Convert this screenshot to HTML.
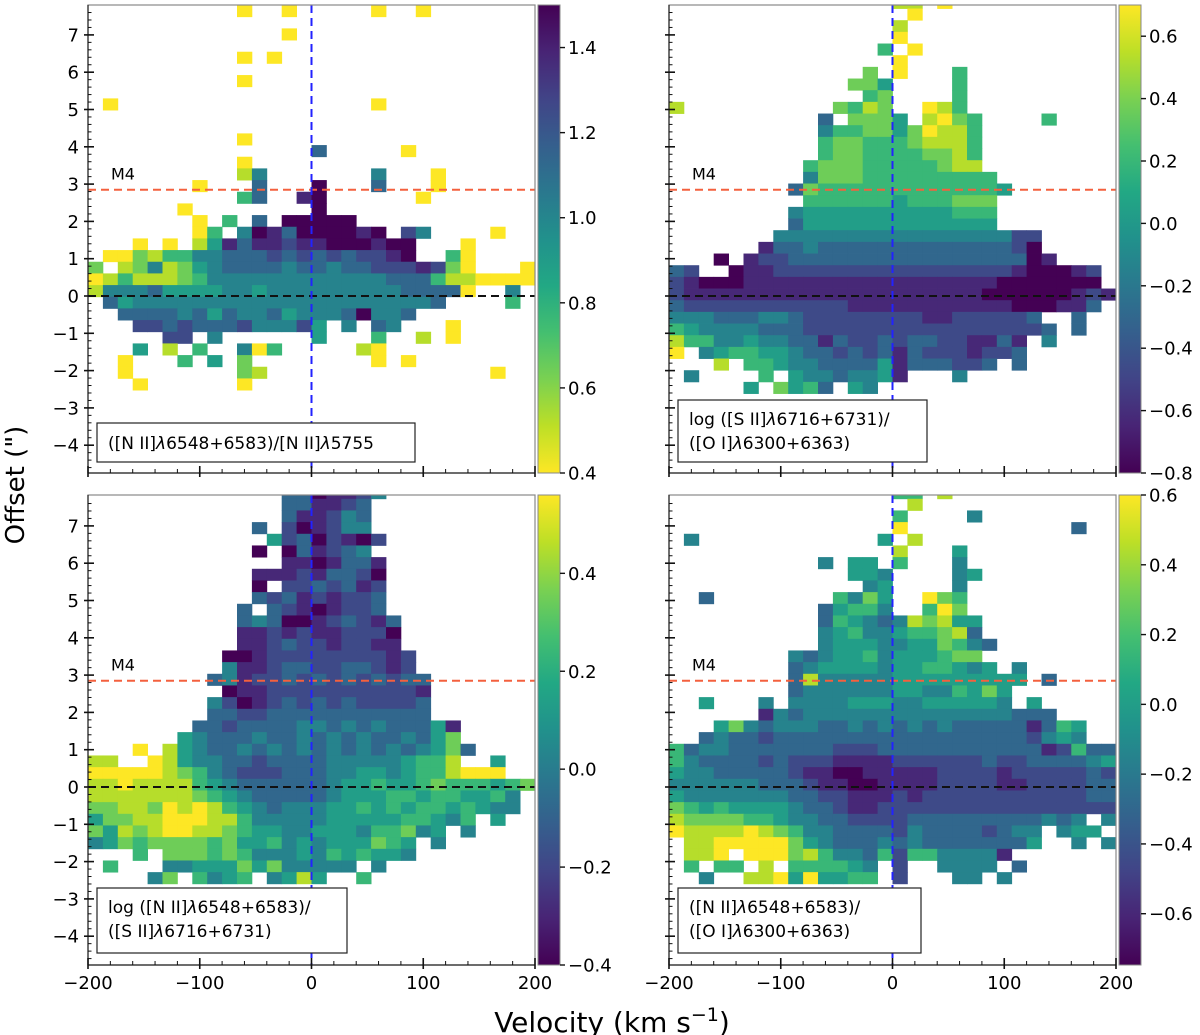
<!DOCTYPE html>
<html><head><meta charset="utf-8"><style>
html,body{margin:0;padding:0;background:#fff;}
svg{display:block;font-family:"DejaVu Sans","Liberation Sans",sans-serif;}
</style></head><body>
<svg id="fig" width="1200" height="1035" viewBox="0 0 1200 1035" xmlns="http://www.w3.org/2000/svg">
<defs>
<linearGradient id="vir" x1="0" y1="1" x2="0" y2="0">
<stop offset="0" stop-color="#440154"/><stop offset="0.1" stop-color="#482475"/><stop offset="0.2" stop-color="#414487"/><stop offset="0.3" stop-color="#355f8d"/><stop offset="0.4" stop-color="#2a788e"/><stop offset="0.5" stop-color="#21918c"/><stop offset="0.6" stop-color="#22a884"/><stop offset="0.7" stop-color="#44bf70"/><stop offset="0.8" stop-color="#7ad151"/><stop offset="0.9" stop-color="#bddf26"/><stop offset="1" stop-color="#fde725"/>
</linearGradient>
<linearGradient id="virr" x1="0" y1="0" x2="0" y2="1">
<stop offset="0" stop-color="#440154"/><stop offset="0.1" stop-color="#482475"/><stop offset="0.2" stop-color="#414487"/><stop offset="0.3" stop-color="#355f8d"/><stop offset="0.4" stop-color="#2a788e"/><stop offset="0.5" stop-color="#21918c"/><stop offset="0.6" stop-color="#22a884"/><stop offset="0.7" stop-color="#44bf70"/><stop offset="0.8" stop-color="#7ad151"/><stop offset="0.9" stop-color="#bddf26"/><stop offset="1" stop-color="#fde725"/>
</linearGradient>
</defs>
<text x="24" y="485" font-size="26" text-anchor="middle" transform="rotate(-90 24 485)">Offset (")</text>
<text x="612" y="1032" font-size="28" text-anchor="middle">Velocity (km s<tspan dy="-11" font-size="19">−1</tspan><tspan dy="11">)</tspan></text>
</svg>
<script>
// ---- data: colour levels per cell (0 = bottom of colormap, 9 = top); rows top-down, 30 velocity bins ----
const tlRows = [
"..... ..... 9..9. ....9 ..9.. .....","..... ..... ..... ..... ..... .....","..... ..... ...9. ..... ..... .....",
"..... ..... ..... ..... ..... .....","..... ..... 9.9.. ..... ..... .....","..... ..... ..... ..... ..... .....",
"..... ..... 9.... ..... ..... .....","..... ..... ..... ..... ..... .....",".9... ..... ..... ....9 ..... .....",
"..... ..... ..... ..... ..... .....","..... ..... ..... ..... ..... .....","..... ..... 9.... ..... ..... .....",
"..... ..... ..... 3.... .9... .....","..... ..... 9.... ..... ..... .....","..... ..... 84... ....4 ...9. .....",
"..... ..9.. .3... 0...3 ...9. .....","..... ..... 63..1 0.... ..9.. .....","..... .9... ..... 0.... ..... .....",
"..... ..9.6 .3.00 000.. ..... .....","..... ..96. 40130 00010 .24.. ..9..","...9. 9.851 31121 10001 00... 9....",
".9978 66443 33232 32322 10..6 9....","7.874 87543 33343 34332 22127 9...9","98688 87644 44444 44444 33368 89999",
"84443 55554 45444 44444 43333 9..4.",".3544 44444 44444 44444 4443. ...6.","..333 34353 44354 44304 43... .....",
"...22 32333 24442 5.4.3 4...9 .....","..... 22.4. ..... 5...6 ..8.9 .....","...5. 8.6.. 496.. ...89 ..... .....",
"..9.. .6.5. 7.... ....9 .9... .....","..9.. ..... 78... ..... ..... ..9..","...9. ..... 9.... ..... ..... ....."];
const trRows = [
"..... ..... ..... 88.9. ..... .....","..... ..... ..... .9... ..... .....","..... ..... ..... 8.... ..... .....",
"..... ..... ..... 9.... ..... .....","..... ..... ....6 .9... ..... .....","..... ..... ..... 9.... ..... .....",
"..... ..... ...7. 9...6 ..... .....","..... ..... ..775 ....6 ..... .....","..... ..... ...67 ....6 ..... .....",
"8.... ..... .7687 ..986 ..... .....","..... ..... 3.777 5.897 6.... 6....","..... ..... 46677 57988 6.... .....",
"..... ..... 67766 67888 6.... .....","..... ..... 67766 66778 6.... .....","..... ....6 77766 66678 8.... .....",
"..... ....4 77766 66666 66... .....","..... ...37 66666 66666 665.. .....","..... ....6 66666 56667 77... .....",
"..... ...45 55555 55556 66... .....","..... ...35 55555 55555 55... .....","..... ..444 44444 44444 44422 .....",
"..... .1334 33333 33333 33320 .....","...0. 12233 33333 33333 33330 1....","32..0 11222 22222 22222 22210 0012.",
"21000 11111 11111 11111 11000 0000.","21111 11111 11111 11111 10000 00121","32222 22222 22111 11111 11100 0113.",
"44433 34432 22222 22112 22223 ..3..","65444 43332 22222 22222 22222 3.3..","86644 54433 13223 23322 1131. 4....",
"9.456 65543 32323 13222 1223. .....","...8. 66544 33335 13332 23.3. .....",".4... .6.54 43445 1...4 ..... .....",
"..... 5.756 3.54. ..... ..... ....."];
const blRows = [
"..... ..... ...33 01124 ..... .....","..... ..... ...33 1123. ..... .....","..... ..... ...31 1243. ..... .....",
"..... ..... .3.20 1244. ..... .....","..... ..... ..523 02102 ..... .....","..... ..... .0.03 1234. ..... .....",
"..... ..... ...11 01331 ..... .....","..... ..... .1112 13320 ..... .....","..... ..... .0.22 32312 ..... .....",
"..... ..... .3231 21223 ..... .....","..... ..... 3.321 01223 ..... .....","..... ..... 34300 12321 3.... .....",
"..... ..... 11212 11222 0.... .....","..... ..... 11232 21221 1.... .....","..... ....0 01222 22222 12... .....",
"..... ....4 11233 22332 12... .....","..... ...34 12232 32323 233.. .....","..... ....0 11222 22222 221.. .....",
"..... ...42 01232 32322 223.. .....","..... ...33 22333 33333 333.. .....","..... ..332 33334 43434 33351 .....",
"..... .5433 34334 34343 34357 .....","...9. 85433 43434 34343 43457 3....","88..9 85443 32333 34444 45668 ..5..",
"99999 87643 22233 34455 45668 999..","88988 88654 33333 34556 55676 66567","88888 88765 43333 34555 66566 5564.",
"77887 98986 54344 45565 65665 6544.","57788 99988 64444 45555 56654 6.5..","75878 99887 65544 55546 6745. 4....",
"45767 77767 55645 45557 65.4. .....","...6. 77767 64445 46565 54... .....",".6... 44555 75744 444.4 ..... .....",
"....4 7.645 6.458 5..6. ..... ....."];
const brRows = [
"..... ..... ..... 66.8. ..... .....","..... ..... ..... .8... ..... .....","..... ..... ..... 6.... 4.... .....",
"..... ..... ..... 9.... ..... ..3..",".4... ..... ....5 .8... ..... .....","..... ..... ..... 8...5 ..... .....",
"..... ..... 4.55. 6...4 ..... .....","..... ..... ..554 ....4 5.... .....","..... ..... ...45 ....4 ..... .....",
"..3.. ..... .6475 ..976 ..... .....","..... ..... 35664 ..697 ..... .....","..... ..... 36543 48785 5.... .....",
"..... ..... 45644 56678 3.... .....","..... ..... 45554 45576 43... .....","..... ...43 45564 55567 7.... .....",
"..... ...34 55554 55665 45.4. .....","..... ...38 44444 55555 5555. 3....","..... ...34 44444 55446 575.. .....",
"..5.. .4.44 44555 44555 554.5 .....","..... .1434 44444 44444 44433 3....","...57 43444 33434 34343 33331 365..",
"..343 32333 33333 33333 33332 454..","63443 33333 32223 33333 33333 12633","64333 32322 21111 22222 23223 33345",
"54433 33321 10011 11122 22122 22232","44444 43332 11001 11122 22112 22233","54444 44433 22111 21222 22222 22233",
"76565 55543 32112 22222 22222 22222","87777 66544 33222 23333 33333 434.4","98888 98764 43333 24333 32344 .455.",
".8899 99975 43334 34333 33335 ..4.4",".889. 99978 64436 26644 441.. .....",".6.66 .8.66 6654. 2..44 44.3. .....",
"..4.. 88959 5566. 2...4 4.4.. ....."];
const yTickLabels = ["7","6","5","4","3","2","1","0","−1","−2","−3","−4"];
const yTickValues = [7,6,5,4,3,2,1,0,-1,-2,-3,-4];
const xTickValues = [-200,-100,0,100,200];
const xTickLabels = ["−200","−100","0","100","200"];
const cbTicksTL = [0.4,0.6,0.8,1.0,1.2,1.4];
const cbTicksTR = [-0.8,-0.6,-0.4,-0.2,0.0,0.2,0.4,0.6];
const cbTicksBL = [-0.4,-0.2,0.0,0.2,0.4];
const cbTicksBR = [-0.6,-0.4,-0.2,0.0,0.2,0.4,0.6];
const rangeTL = [0.4,1.5], rangeTR = [-0.8,0.7], rangeBL = [-0.4,0.56], rangeBR = [-0.747,0.6];
const m4Offset = 2.85;

const NS="http://www.w3.org/2000/svg";
const svg=document.getElementById('fig');
const VIR=[[68,1,84],[72,36,117],[65,68,135],[53,95,141],[42,120,142],[33,145,140],[34,168,132],[68,191,112],[122,209,81],[189,223,38],[253,231,37]];
function viridis(t){t=Math.max(0,Math.min(1,t));const p=t*10,i=Math.min(9,Math.floor(p)),f=p-i;const a=VIR[i],b=VIR[i+1];
return 'rgb('+a.map((v,k)=>Math.round(v+(b[k]-v)*f)).join(',')+')';}
function mk(tag,attrs,parent){const e=document.createElementNS(NS,tag);for(const k in attrs)e.setAttribute(k,attrs[k]);(parent||svg).appendChild(e);return e;}
function fmt(v){const s=Math.abs(v).toFixed(1);return (v<-1e-9?'−':'')+s;}

const panels=[
 {id:'top-left',x0:88,x1:535,top:5,bot:473,yz:296,rows:tlRows,topOff:7.80,rng:rangeTL,rev:true,cb:cbTicksTL,ylab:true,xlab:false,
  leg:{x:97,y:423,w:318,h:39,lines:[['([N II]','λ','6548+6583)/[N II]','λ','5755']]}},
 {id:'top-right',x0:669,x1:1116,top:5,bot:473,yz:296,rows:trRows,topOff:8.02,rng:rangeTR,rev:false,cb:cbTicksTR,ylab:false,xlab:false,
  leg:{x:678,y:400,w:249,h:62,lines:[['log ([S II]','λ','6716+6731)/'],['([O I]','λ','6300+6363)']]}},
 {id:'bottom-left',x0:88,x1:535,top:495,bot:965,yz:787,rows:blRows,topOff:8.04,rng:rangeBL,rev:false,cb:cbTicksBL,ylab:true,xlab:true,
  leg:{x:97,y:888,w:250,h:65,lines:[['log ([N II]','λ','6548+6583)/'],['([S II]','λ','6716+6731)']]}},
 {id:'bottom-right',x0:669,x1:1116,top:495,bot:965,yz:787,rows:brRows,topOff:8.04,rng:rangeBR,rev:false,cb:cbTicksBR,ylab:false,xlab:true,
  leg:{x:678,y:888,w:243,h:65,lines:[['([N II]','λ','6548+6583)/'],['([O I]','λ','6300+6363)']]}}
];
const PPU=37.3, NB=30, VMIN=-200, VMAX=200, ROWH=0.3128;

panels.forEach((P,pi)=>{
 const g=mk('g',{});
 
 
 const xs=v=>P.x0+(v-VMIN)/(VMAX-VMIN)*(P.x1-P.x0);
 const ys=o=>P.yz-o*PPU;
 const cid='clip'+pi;
 const cp=mk('clipPath',{id:cid},g);mk('rect',{x:P.x0,y:P.top,width:P.x1-P.x0,height:P.bot-P.top},cp);
 const hm=mk('g',{'clip-path':'url(#'+cid+')'},g);
 
 
 const dv=(VMAX-VMIN)/NB;
 const [lo,hi]=P.rng;
 P.rows.forEach((row,r)=>{
  const s=row.replace(/ /g,'');
  const oTop=P.topOff-r*ROWH;
  for(let c=0;c<s.length;c++){
   const ch=s[c]; if(ch==='.')continue;
   const lev=+ch/9;
   const val=P.rev? hi-lev*(hi-lo) : lo+lev*(hi-lo);
   let t=(val-lo)/(hi-lo); if(P.rev)t=1-t;
   const x1=xs(VMIN+c*dv), x2=xs(VMIN+(c+1)*dv);
   const y1=ys(oTop), y2=ys(oTop-ROWH);
   const rc=mk('rect',{x:x1.toFixed(2),y:y1.toFixed(2),width:(x2-x1+0.4).toFixed(2),height:(y2-y1+0.4).toFixed(2),fill:viridis(t)},hm);
   
   
  }
 });
 const lm=mk('line',{x1:P.x0,x2:P.x1,y1:ys(m4Offset),y2:ys(m4Offset),stroke:'#f4603e','stroke-width':2,'stroke-dasharray':'8,5'},g);
 
 
 const lz=mk('line',{x1:P.x0,x2:P.x1,y1:ys(0),y2:ys(0),stroke:'#111','stroke-width':2,'stroke-dasharray':'8,5'},g);
 
 
 const lv=mk('line',{x1:xs(0),x2:xs(0),y1:P.top,y2:P.bot,stroke:'#2222ff','stroke-width':2,'stroke-dasharray':'8,5'},g);
 
 
 const m4=mk('text',{x:P.x0+23,y:ys(m4Offset)-10,'font-size':16},g);m4.textContent='M4';
 
 
 const fr=mk('rect',{x:P.x0,y:P.top,width:P.x1-P.x0,height:P.bot-P.top,fill:'none',stroke:'#888','stroke-width':1.2},g);
 
 
 mk('line',{x1:P.x0,x2:P.x0,y1:P.top,y2:P.bot,stroke:'#222','stroke-width':1.2},g);
 mk('line',{x1:P.x0,x2:P.x1,y1:P.bot,y2:P.bot,stroke:'#222','stroke-width':1.2},g);
 for(let o=-4.6;o<=7.8;o+=0.2){const y=ys(o);if(y<P.top||y>P.bot)continue;
  const maj=Math.abs(o-Math.round(o))<0.01;
  mk('line',{x1:maj?P.x0-4:P.x0,x2:P.x0+(maj?6:3.5),y1:y,y2:y,stroke:'#111','stroke-width':maj?1.6:1},g);}
 yTickValues.forEach((v,i)=>{ if(!P.ylab)return;
  const t=mk('text',{x:P.x0-9,y:ys(v)+6.5,'font-size':18,'text-anchor':'end'},g);t.textContent=yTickLabels[i];
  
  });
 for(let v=-200;v<=200;v+=20){const x=xs(v);const maj=v%100===0;
  mk('line',{x1:x,x2:x,y1:P.bot+(maj?4:0),y2:P.bot-(maj?7:4),stroke:'#111','stroke-width':maj?1.6:1},g);}
 xTickValues.forEach((v,i)=>{ if(!P.xlab)return;
  const t=mk('text',{x:xs(v),y:P.bot+24,'font-size':18,'text-anchor':'middle'},g);t.textContent=xTickLabels[i];
  
  });
 const L=P.leg;
 const lg=mk('g',{},g);
 
 
 mk('rect',{x:L.x,y:L.y,width:L.w,height:L.h,fill:'#fff',stroke:'#222','stroke-width':1.2},lg);
 L.lines.forEach((parts,li)=>{
  const t=mk('text',{x:L.x+11,y:L.y+(L.lines.length===1?26:25+li*24),'font-size':17},lg);
  parts.forEach(p=>{const ts=mk('tspan',{},t);if(p==='λ')ts.setAttribute('font-style','italic');ts.textContent=p;});
 });
 const cx=P.x1+3,cw=22;
 const cb=mk('g',{},g);
 
 
 mk('rect',{x:cx,y:P.top,width:cw,height:P.bot-P.top,fill:P.rev?'url(#virr)':'url(#vir)',stroke:'#888','stroke-width':1},cb);
 P.cb.forEach(v=>{const y=P.bot-(v-lo)/(hi-lo)*(P.bot-P.top);
  mk('line',{x1:cx+cw,x2:cx+cw+5,y1:y,y2:y,stroke:'#111','stroke-width':1.4},cb);
  const t=mk('text',{x:cx+cw+8,y:y+6.5,'font-size':18},cb);t.textContent=fmt(v);
  
  });
});
</script>
</body></html>
